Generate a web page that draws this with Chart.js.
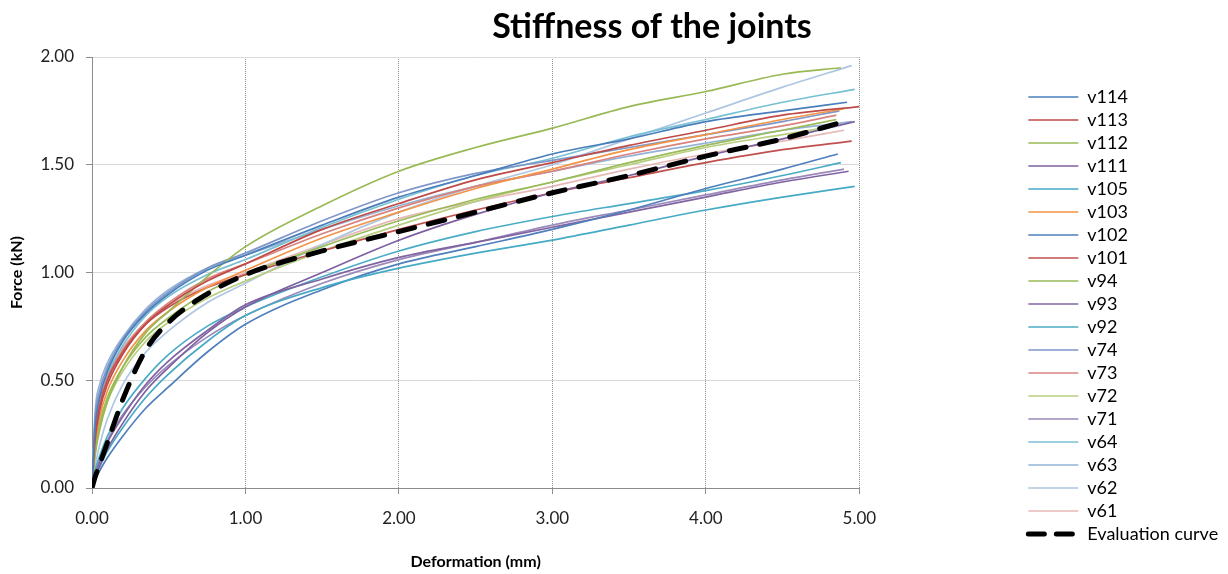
<!DOCTYPE html>
<html>
<head>
<meta charset="utf-8">
<script src="https://cdn.jsdelivr.net/npm/chart.js@4.4.1/dist/chart.umd.min.js"></script>
<style>
  html, body { margin: 0; padding: 0; background: #fff; }
  #wrap { width: 1228px; height: 574px; position: relative; }
</style>
</head>
<body>
<div id="wrap"><canvas id="stiffChart"></canvas></div>
<script>
'use strict';
// ─────────────────────────────────────────────
//  DATA
// ─────────────────────────────────────────────

const TITLE = 'Stiffness of the joints';
const X_TITLE = 'Deformation (mm)';
const Y_TITLE = 'Force (kN)';

// shared deformation points (mm); each series adds its own last point
const DEFORM = [0, 0.02, 0.05, 0.1, 0.2, 0.35, 0.5, 0.75, 1, 1.5, 2, 2.5, 3, 3.5, 4, 4.5];

const SERIES_NAMES = ['v114', 'v113', 'v112', 'v111', 'v105', 'v103', 'v102', 'v101', 'v94', 'v93',
  'v92', 'v74', 'v73', 'v72', 'v71', 'v64', 'v63', 'v62', 'v61'];

const SERIES_COLORS = ['#4a7ebb', '#be4b48', '#98b954', '#7d60a0', '#46aac5', '#f29447', '#4f7fbd', '#c0504d',
  '#9bbb59', '#8064a2', '#4bacc6', '#7f96c8', '#d9837f', '#b7cd7f', '#9b89b9', '#78c0d4', '#95b3d7', '#afc6e2', '#e6b9b8'];

// force (kN) at DEFORM points
const F_V114 = [0, 0.28, 0.42, 0.54, 0.68, 0.81, 0.90, 1.01, 1.08, 1.22, 1.35, 1.45, 1.55, 1.62, 1.70, 1.75];
const F_V113 = [0, 0.22, 0.36, 0.48, 0.62, 0.76, 0.85, 0.96, 1.04, 1.20, 1.32, 1.43, 1.51, 1.59, 1.66, 1.73];
const F_V112 = [0, 0.15, 0.27, 0.40, 0.56, 0.72, 0.82, 0.98, 1.12, 1.31, 1.47, 1.58, 1.67, 1.77, 1.84, 1.92];
const F_V111 = [0, 0.05, 0.10, 0.18, 0.30, 0.45, 0.56, 0.72, 0.84, 1.00, 1.15, 1.27, 1.37, 1.45, 1.54, 1.62];
const F_V105 = [0, 0.05, 0.10, 0.17, 0.28, 0.42, 0.53, 0.68, 0.80, 0.93, 1.02, 1.09, 1.15, 1.22, 1.29, 1.35];
const F_V103 = [0, 0.20, 0.33, 0.45, 0.59, 0.73, 0.82, 0.93, 1.01, 1.16, 1.28, 1.39, 1.48, 1.57, 1.64, 1.71];
const F_V102 = [0, 0.04, 0.08, 0.14, 0.24, 0.37, 0.47, 0.63, 0.76, 0.92, 1.04, 1.12, 1.20, 1.29, 1.39, 1.48];
const F_V101 = [0, 0.25, 0.38, 0.50, 0.63, 0.76, 0.84, 0.93, 0.99, 1.10, 1.20, 1.29, 1.37, 1.44, 1.51, 1.57];
const F_V94  = [0, 0.18, 0.30, 0.42, 0.56, 0.70, 0.79, 0.91, 0.99, 1.12, 1.24, 1.34, 1.42, 1.51, 1.59, 1.66];
const F_V93  = [0, 0.06, 0.12, 0.21, 0.33, 0.48, 0.59, 0.73, 0.85, 0.97, 1.07, 1.14, 1.21, 1.28, 1.35, 1.42];
const F_V92  = [0, 0.08, 0.15, 0.24, 0.37, 0.51, 0.62, 0.75, 0.84, 0.98, 1.10, 1.19, 1.26, 1.32, 1.38, 1.45];
const F_V74  = [0, 0.32, 0.45, 0.56, 0.69, 0.82, 0.91, 1.02, 1.09, 1.24, 1.37, 1.46, 1.52, 1.58, 1.64, 1.70];
const F_V73  = [0, 0.28, 0.40, 0.51, 0.64, 0.77, 0.86, 0.97, 1.04, 1.18, 1.30, 1.40, 1.47, 1.55, 1.62, 1.68];
const F_V72  = [0, 0.16, 0.28, 0.40, 0.54, 0.68, 0.77, 0.88, 0.96, 1.10, 1.22, 1.33, 1.42, 1.50, 1.58, 1.64];
const F_V71  = [0, 0.07, 0.13, 0.22, 0.34, 0.47, 0.57, 0.70, 0.80, 0.95, 1.06, 1.14, 1.22, 1.29, 1.36, 1.43];
const F_V64  = [0, 0.26, 0.40, 0.52, 0.66, 0.80, 0.89, 0.99, 1.06, 1.21, 1.34, 1.45, 1.53, 1.63, 1.71, 1.79];
const F_V63  = [0, 0.35, 0.48, 0.58, 0.70, 0.83, 0.92, 1.02, 1.08, 1.20, 1.31, 1.40, 1.47, 1.54, 1.60, 1.66];
const F_V62  = [0, 0.10, 0.20, 0.32, 0.48, 0.63, 0.73, 0.86, 0.95, 1.13, 1.28, 1.40, 1.50, 1.62, 1.74, 1.86];
const F_V61  = [0, 0.30, 0.43, 0.53, 0.65, 0.77, 0.85, 0.94, 1.00, 1.13, 1.25, 1.33, 1.40, 1.48, 1.55, 1.61];
const F_EVAL = [0, 0.05, 0.11, 0.21, 0.41, 0.64, 0.77, 0.90, 0.99, 1.10, 1.19, 1.28, 1.37, 1.45, 1.54, 1.62];

const SERIES_FORCE = [F_V114, F_V113, F_V112, F_V111, F_V105, F_V103, F_V102, F_V101, F_V94, F_V93,
  F_V92, F_V74, F_V73, F_V72, F_V71, F_V64, F_V63, F_V62, F_V61];

// last measured point of each series
const END_DEFORM = [4.92, 5.0, 4.88, 4.97, 4.97, 4.9, 4.86, 4.95, 4.85, 4.93,
  4.88, 4.87, 4.85, 4.85, 4.9, 4.97, 4.95, 4.95, 4.9];
const END_FORCE = [1.79, 1.77, 1.95, 1.70, 1.40, 1.76, 1.55, 1.61, 1.71, 1.47,
  1.51, 1.75, 1.73, 1.68, 1.48, 1.85, 1.70, 1.96, 1.66];
const EVAL_END_DEFORM = 4.9;
const EVAL_END_FORCE = 1.70;

const X_TICKS = [0, 1, 2, 3, 4, 5];
const Y_TICKS = [0, 0.5, 1, 1.5, 2];

// ─────────────────────────────────────────────
//  CHART
// ─────────────────────────────────────────────

const FONT = 'Lato, "Open Sans", sans-serif';

function toPoints(force, endX, endY) {
  const pts = DEFORM.map((x, i) => ({ x, y: force[i] }));
  pts.push({ x: endX, y: endY });
  return pts;
}

const datasets = SERIES_NAMES.map((name, i) => ({
  label: name,
  data: toPoints(SERIES_FORCE[i], END_DEFORM[i], END_FORCE[i]),
  borderColor: SERIES_COLORS[i],
  backgroundColor: SERIES_COLORS[i],
  borderWidth: 1.7,
  pointRadius: 0,
  cubicInterpolationMode: 'monotone',
  order: 0,
}));

datasets.push({
  label: 'Evaluation curve',
  data: toPoints(F_EVAL, EVAL_END_DEFORM, EVAL_END_FORCE),
  borderColor: '#000',
  backgroundColor: '#000',
  borderWidth: 5,
  borderDash: [17, 14],
  borderCapStyle: 'round',
  legendDash: [16, 12],
  pointRadius: 0,
  cubicInterpolationMode: 'monotone',
  order: -1,
});

const titleText = {
  id: 'titleText',
  afterDraw(chart) {
    const c = chart.ctx;
    c.save();
    c.font = 'bold 34px ' + FONT;
    c.fillStyle = '#000';
    c.textAlign = 'center';
    c.textBaseline = 'middle';
    c.fillText(TITLE, 652, 27);
    c.restore();
  },
};

function legendLabels(chart) {
  const items = Chart.defaults.plugins.legend.labels.generateLabels(chart);
  items.forEach(it => {
    const ds = chart.data.datasets[it.datasetIndex];
    it.lineWidth = ds.borderWidth;
    it.lineDash = ds.legendDash || [];
    it.lineCap = ds.borderCapStyle || 'butt';
    it.strokeStyle = ds.borderColor;
  });
  return items;
}

new Chart(document.getElementById('stiffChart'), {
  type: 'line',
  data: { datasets },
  plugins: [titleText],
  options: {
    responsive: true,
    maintainAspectRatio: false,
    animation: false,
    devicePixelRatio: 1,
    layout: { padding: { top: 57, right: 0, bottom: 0, left: 0 } },
    plugins: {
      title: { display: false },
      tooltip: { enabled: false },
      legend: {
        display: true,
        position: 'right',
        labels: {
          color: '#000',
          font: { family: FONT, size: 18 },
          usePointStyle: true,
          pointStyle: 'line',
          pointStyleWidth: 50,
          padding: 5,
          generateLabels: legendLabels,
          sort: (a, b) => a.datasetIndex - b.datasetIndex,
        },
      },
    },
    scales: {
      x: {
        type: 'linear',
        min: 0,
        max: 5,
        afterBuildTicks: s => { s.ticks = X_TICKS.map(v => ({ value: v })); },
        afterFit: s => { s.height = 86; },
        ticks: {
          color: '#222',
          font: { family: FONT, size: 17 },
          padding: 14,
          maxRotation: 0,
          callback: v => v.toFixed(2),
        },
        grid: { color: '#8c8c8c', lineWidth: 1, tickLength: 6, tickColor: '#8c8c8c' },
        border: { display: true, color: '#8c8c8c', width: 1, dash: [1, 1] },
        title: {
          display: true,
          text: X_TITLE,
          color: '#000',
          font: { family: FONT, size: 16, weight: 'bold' },
          padding: { top: 4, bottom: 3 },
        },
      },
      y: {
        type: 'linear',
        min: 0,
        max: 2,
        afterBuildTicks: s => { s.ticks = Y_TICKS.map(v => ({ value: v })); },
        afterFit: s => { s.width = 92; },
        ticks: {
          color: '#222',
          font: { family: FONT, size: 17 },
          padding: 12,
          callback: v => v.toFixed(2),
        },
        grid: { color: '#d9d9d9', lineWidth: 1, tickLength: 6, tickColor: '#8c8c8c' },
        border: { display: true, color: '#8c8c8c', width: 1 },
        title: {
          display: true,
          text: Y_TITLE,
          color: '#000',
          font: { family: FONT, size: 16, weight: 'bold' },
          padding: { top: 7, bottom: 0 },
        },
      },
      gap: {
        type: 'linear',
        position: 'right',
        display: true,
        afterFit: s => { s.width = 164; },
        ticks: { display: false },
        grid: { display: false },
        border: { display: false },
      },
    },
  },
});
</script>
</body>
</html>
